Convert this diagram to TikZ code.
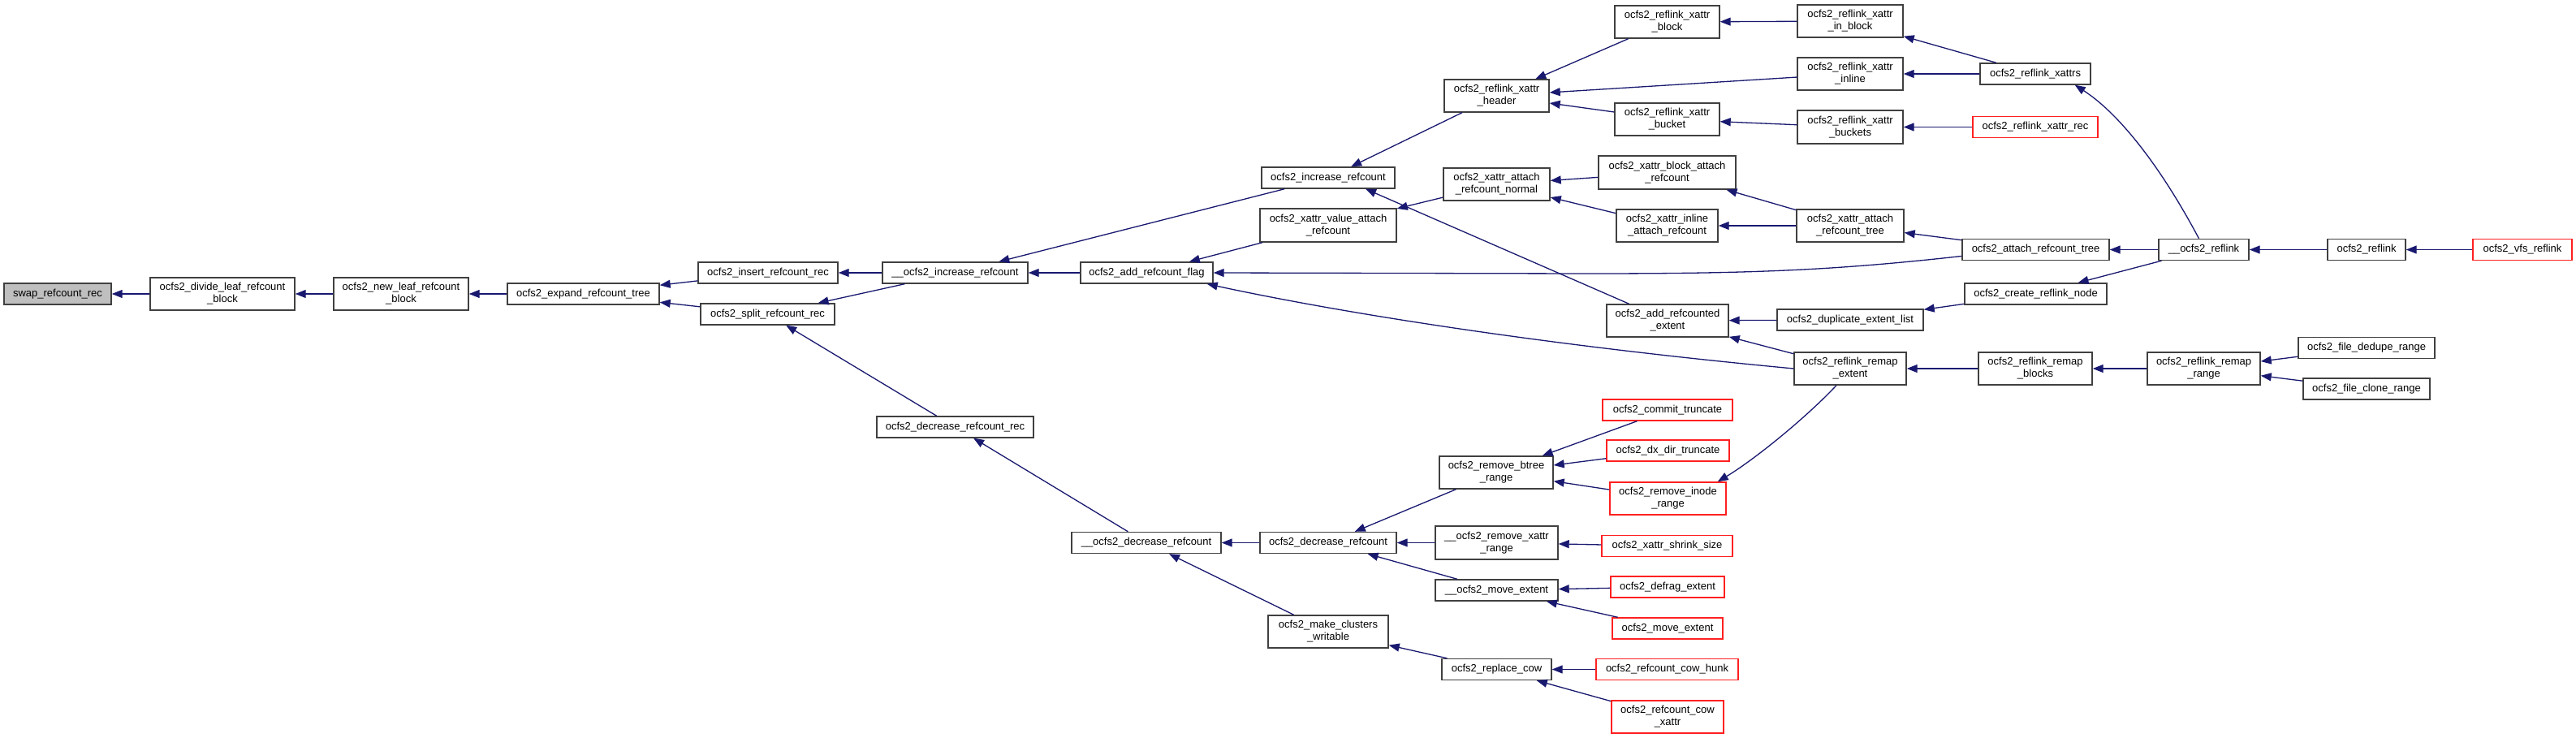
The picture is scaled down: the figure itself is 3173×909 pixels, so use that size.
\documentclass[tikz,border=0pt]{standalone}
\usepackage{fontspec}
\setmainfont{Liberation Sans}
\usetikzlibrary{arrows.meta}
\definecolor{edgecol}{HTML}{191970}
\definecolor{bordercol}{HTML}{404040}
\definecolor{swapgray}{HTML}{BFBFBF}
\definecolor{callred}{HTML}{FF2020}
\tikzset{
  fn/.style={draw=bordercol, line width=1.4pt, fill=white, inner sep=0pt, align=center,
             font=\fontsize{13}{15}\selectfont, minimum height=26pt},
  fntwo/.style={fn, minimum height=40pt},
  redfn/.style={fn, draw=callred},
  redtwo/.style={fntwo, draw=callred},
  edge/.style={draw=edgecol, line width=1.3pt, -{Triangle[length=13pt,width=10pt]}},
}
\begin{document}
\begin{tikzpicture}[x=1pt, y=-1pt]
\fill[white] (0,0) rectangle (3173,909);
\useasboundingbox (0,0) rectangle (3173,909);

% column 0-3
\node[fn, fill=swapgray, minimum width=132pt] (swap) at (71,362) {swap\_refcount\_rec};
\node[fntwo, minimum width=178pt] (divide) at (274,362) {ocfs2\_divide\_leaf\_refcount\\\_block};
\node[fntwo, minimum width=166pt] (newleaf) at (494,362) {ocfs2\_new\_leaf\_refcount\\\_block};
\node[fn, minimum width=187pt] (expand) at (718.5,362) {ocfs2\_expand\_refcount\_tree};
% column 4
\node[fn, minimum width=172pt] (insert) at (946,336) {ocfs2\_insert\_refcount\_rec};
\node[fn, minimum width=165pt] (split) at (945.5,387) {ocfs2\_split\_refcount\_rec};
% column 5
\node[fn, minimum width=179pt] (incr2) at (1176.5,336) {\_\_ocfs2\_increase\_refcount};
\node[fn, minimum width=193pt] (decrec) at (1176.5,526) {ocfs2\_decrease\_refcount\_rec};
% column 6
\node[fn, minimum width=163pt] (arf) at (1412.5,336) {ocfs2\_add\_refcount\_flag};
\node[fn, minimum width=184pt] (decr2) at (1412,668.5) {\_\_ocfs2\_decrease\_refcount};
% column 7
\node[fn, minimum width=164pt] (incr) at (1636,219) {ocfs2\_increase\_refcount};
\node[fntwo, minimum width=168pt, minimum height=41pt] (xvalue) at (1636,277.5) {ocfs2\_xattr\_value\_attach\\\_refcount};
\node[fn, minimum width=168pt] (decr) at (1636,668.5) {ocfs2\_decrease\_refcount};
\node[fntwo, minimum width=148pt] (mcw) at (1636,778) {ocfs2\_make\_clusters\\\_writable};
% column 8
\node[fntwo, minimum width=129pt] (header) at (1843.5,118) {ocfs2\_reflink\_xattr\\\_header};
\node[fntwo, minimum width=131pt] (xnormal) at (1843.5,227) {ocfs2\_xattr\_attach\\\_refcount\_normal};
\node[fntwo, minimum width=140pt] (rbr) at (1843,582) {ocfs2\_remove\_btree\\\_range};
\node[fntwo, minimum width=151pt, minimum height=41pt] (rmxattr) at (1843.5,668.5) {\_\_ocfs2\_remove\_xattr\\\_range};
\node[fn, minimum width=151pt] (mvext2) at (1843.5,727) {\_\_ocfs2\_move\_extent};
\node[fn, minimum width=135pt] (rcow) at (1843.5,824.5) {ocfs2\_replace\_cow};
% column 9
\node[fntwo, minimum width=129pt] (xblock) at (2053.5,27) {ocfs2\_reflink\_xattr\\\_block};
\node[fntwo, minimum width=129pt] (xbucket) at (2053.5,147) {ocfs2\_reflink\_xattr\\\_bucket};
\node[fntwo, minimum width=169pt, minimum height=41pt] (xbattach) at (2053.5,212.5) {ocfs2\_xattr\_block\_attach\\\_refcount};
\node[fntwo, minimum width=125pt] (xiattach) at (2053.5,278) {ocfs2\_xattr\_inline\\\_attach\_refcount};
\node[fntwo, minimum width=150pt] (are) at (2054,395) {ocfs2\_add\_refcounted\\\_extent};
\node[redfn, minimum width=160pt] (commit) at (2054,505) {ocfs2\_commit\_truncate};
\node[redfn, minimum width=151pt] (dxdir) at (2054.5,555) {ocfs2\_dx\_dir\_truncate};
\node[redtwo, minimum width=143pt] (rir) at (2054.5,614) {ocfs2\_remove\_inode\\\_range};
\node[redfn, minimum width=161pt] (shrink) at (2053.5,672.5) {ocfs2\_xattr\_shrink\_size};
\node[redfn, minimum width=140pt] (defrag) at (2054,723) {ocfs2\_defrag\_extent};
\node[redfn, minimum width=136pt] (mvext) at (2054,774) {ocfs2\_move\_extent};
\node[redfn, minimum width=175pt] (cowhunk) at (2053.5,824.5) {ocfs2\_refcount\_cow\_hunk};
\node[redtwo, minimum width=138pt] (cowxattr) at (2054,883) {ocfs2\_refcount\_cow\\\_xattr};
% column 10
\node[fntwo, minimum width=130pt] (xinblock) at (2279,26) {ocfs2\_reflink\_xattr\\\_in\_block};
\node[fntwo, minimum width=130pt] (xinline) at (2279,91) {ocfs2\_reflink\_xattr\\\_inline};
\node[fntwo, minimum width=130pt, minimum height=41pt] (xbuckets) at (2279,156.5) {ocfs2\_reflink\_xattr\\\_buckets};
\node[fntwo, minimum width=132pt] (xatree) at (2279,278) {ocfs2\_xattr\_attach\\\_refcount\_tree};
\node[fn, minimum width=180pt] (dup) at (2279,394) {ocfs2\_duplicate\_extent\_list};
\node[fntwo, minimum width=138pt] (rext) at (2279,454) {ocfs2\_reflink\_remap\\\_extent};
% column 11
\node[fn, minimum width=136pt] (xattrs) at (2507,91) {ocfs2\_reflink\_xattrs};
\node[redfn, minimum width=154pt] (xrec) at (2507,156.5) {ocfs2\_reflink\_xattr\_rec};
\node[fn, minimum width=181pt] (atree) at (2507.5,307.5) {ocfs2\_attach\_refcount\_tree};
\node[fn, minimum width=175pt] (creflink) at (2507.5,362) {ocfs2\_create\_reflink\_node};
\node[fntwo, minimum width=140pt] (rblocks) at (2507,454) {ocfs2\_reflink\_remap\\\_blocks};
% column 12
\node[fn, minimum width=111pt] (reflink2) at (2714.5,307.5) {\_\_ocfs2\_reflink};
\node[fntwo, minimum width=139pt] (rrange) at (2714.5,454) {ocfs2\_reflink\_remap\\\_range};
% column 13
\node[fn, minimum width=96pt] (reflink) at (2915,307.5) {ocfs2\_reflink};
\node[fn, minimum width=168pt] (dedupe) at (2915,428.5) {ocfs2\_file\_dedupe\_range};
\node[fn, minimum width=156pt] (clone) at (2915,479) {ocfs2\_file\_clone\_range};
% column 14
\node[redfn, minimum width=122pt] (vfs) at (3107,307.5) {ocfs2\_vfs\_reflink};

% edges (caller -> callee)
\draw[edge] (divide) -- (swap);
\draw[edge] (newleaf) -- (divide);
\draw[edge] (expand) -- (newleaf);
\draw[edge] (insert) -- (expand);
\draw[edge] (split) -- (expand);
\draw[edge] (incr2) -- (insert);
\draw[edge] (incr2) -- (split);
\draw[edge] (decrec) -- (split);
\draw[edge] (incr) -- (incr2);
\draw[edge] (arf) -- (incr2);
\draw[edge] (xvalue) -- (arf);
\draw[edge] (atree.185) .. controls (2250,334) and (2150,337) .. (1950,337) -- (arf.east);
\draw[edge] (rext.west) .. controls (1900,425) and (1650,385) .. ([xshift=-8pt]arf.south east);
\draw[edge] (header) -- (incr);
\draw[edge] (are) -- ([xshift=46pt]incr.south);
\draw[edge] (xnormal) -- (xvalue);
\draw[edge] (xblock) -- (header);
\draw[edge] (xinline) -- (header);
\draw[edge] (xbucket) -- (header);
\draw[edge] (xinblock) -- (xblock);
\draw[edge] (xbuckets) -- (xbucket);
\draw[edge] (xattrs) -- (xinblock);
\draw[edge] (xattrs) -- (xinline);
\draw[edge] (xrec) -- (xbuckets);
\draw[edge] ([xshift=-6pt]reflink2.north) .. controls (2657,197) and (2606,137) .. ([xshift=-20pt]xattrs.south east);
\draw[edge] (xbattach) -- (xnormal);
\draw[edge] (xiattach) -- (xnormal);
\draw[edge] (xatree) -- (xbattach);
\draw[edge] (xatree) -- (xiattach);
\draw[edge] (atree) -- (xatree);
\draw[edge] (reflink2) -- (atree);
\draw[edge] (reflink2) -- (creflink);
\draw[edge] (reflink) -- (reflink2);
\draw[edge] (vfs) -- (reflink);
\draw[edge] (dup) -- (are);
\draw[edge] (rext) -- (are);
\draw[edge] (creflink) -- (dup);
\draw[edge] (rblocks) -- (rext);
\draw[edge] (rrange) -- (rblocks);
\draw[edge] (dedupe) -- (rrange);
\draw[edge] (clone) -- (rrange);
\draw[edge] (decr2) -- (decrec);
\draw[edge] (decr) -- (decr2);
\draw[edge] (mcw) -- (decr2);
\draw[edge] (rbr) -- (decr);
\draw[edge] (rmxattr) -- (decr);
\draw[edge] (mvext2) -- (decr);
\draw[edge] (commit) -- (rbr);
\draw[edge] (dxdir) -- (rbr);
\draw[edge] (rir) -- (rbr);
\draw[edge] ([xshift=-17pt]rext.south) .. controls (2221,518) and (2158,568) .. ([xshift=-11pt]rir.north east);
\draw[edge] (shrink) -- (rmxattr);
\draw[edge] (defrag) -- (mvext2);
\draw[edge] (mvext) -- (mvext2);
\draw[edge] (rcow) -- (mcw);
\draw[edge] (cowhunk) -- (rcow);
\draw[edge] (cowxattr) -- (rcow);
\end{tikzpicture}
\end{document}
